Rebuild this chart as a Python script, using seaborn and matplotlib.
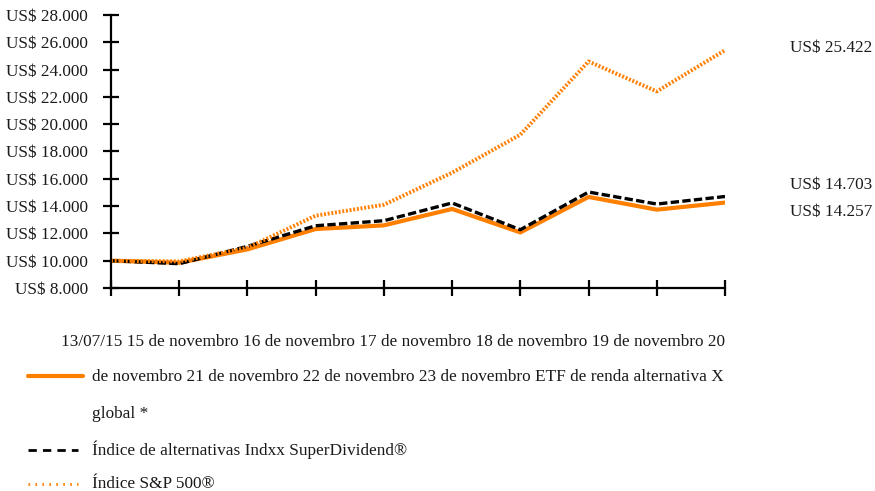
import matplotlib
matplotlib.use("Agg")
import matplotlib.pyplot as plt
from matplotlib.lines import Line2D
import pandas as pd
import seaborn as sns

# period labels (in the original they ended up inside the legend text)
dates = ["13/07/15", "15 de novembro", "16 de novembro", "17 de novembro",
         "18 de novembro", "19 de novembro", "20 de novembro",
         "21 de novembro", "22 de novembro", "23 de novembro"]

etf_x = [10000, 9850, 10830, 12320, 12590, 13790, 12070, 14670, 13740, 14257]
indxx = [10000, 9780, 11050, 12560, 12930, 14230, 12270, 15030, 14150, 14703]
sp500 = [10000, 9950, 10950, 13300, 14100, 16450, 19230, 24600, 22400, 25422]

series_names = ["ETF de renda alternativa X global *",
                "Índice de alternativas Indxx SuperDividend®",
                "Índice S&P 500®"]

y_ticks = list(range(8000, 28001, 2000))
ORANGE = "#FF7F00"
W, H = 875, 491


def usd(v):
    return "US$ " + f"{v:,}".replace(",", ".")


df = pd.DataFrame({"periodo": range(len(dates)), "etf": etf_x,
                   "indxx": indxx, "sp500": sp500})

sns.set_theme(style="white")
plt.rcParams["font.family"] = ["Liberation Serif", "DejaVu Serif"]
FS = 12.4
TXT = "#1a1a1a"

fig = plt.figure(figsize=(W / 100, H / 100), dpi=100)
ax = fig.add_axes([111 / W, 1 - 288 / H, (725 - 111) / W, (288 - 15) / H])

sns.lineplot(data=df, x="periodo", y="etf", ax=ax, color=ORANGE,
             linewidth=3.0)
sns.lineplot(data=df, x="periodo", y="indxx", ax=ax, color="black",
             linewidth=2.4, linestyle=(0, (2.5, 1)))
sns.lineplot(data=df, x="periodo", y="sp500", ax=ax, color=ORANGE,
             linewidth=2.8, linestyle=(0, (0.5, 0.45)))

ax.set_xlim(0, len(dates) - 1)
ax.set_ylim(y_ticks[0], y_ticks[-1])
ax.set_xticks(range(len(dates)))
ax.set_xticklabels([])
ax.set_yticks(y_ticks)
ax.set_yticklabels([usd(v) for v in y_ticks], fontsize=FS)
ax.set_xlabel("")
ax.set_ylabel("")
for s in ["top", "right"]:
    ax.spines[s].set_visible(False)
for s in ["left", "bottom"]:
    ax.spines[s].set_color("black")
    ax.spines[s].set_linewidth(1.6)
ax.tick_params(axis="both", direction="inout", length=12, width=1.6,
               color="black", labelcolor=TXT)
ax.tick_params(axis="y", pad=10.5, left=True)
ax.tick_params(axis="x", bottom=True)

# end values at the right
ends = [(sp500[-1], 1.4), (indxx[-1], 8.5), (etf_x[-1], -6.5)]
for val, dy in ends:
    ax.annotate(usd(val), xy=(790 / W, val),
                xycoords=("figure fraction", "data"),
                xytext=(0, dy), textcoords="offset points",
                va="center", ha="left", fontsize=FS, color=TXT)

# legend block (date labels flowed together with the first series name)
words = (" ".join(dates) + " " + series_names[0]).split()
lines = [" ".join(words[:17]), " ".join(words[17:33]), " ".join(words[33:])]


def fy(py):
    return 1 - py / H


fig.text(61 / W, fy(341.7), lines[0], va="center", fontsize=FS, color=TXT)
fig.text(92 / W, fy(377), lines[1], va="center", fontsize=FS, color=TXT)
fig.text(92 / W, fy(414), lines[2], va="center", fontsize=FS, color=TXT)
fig.text(92 / W, fy(450), series_names[1], va="center", fontsize=FS, color=TXT)
fig.text(92 / W, fy(484), series_names[2], va="center", fontsize=FS, color=TXT)

handles = [
    (376, 83, dict(color=ORANGE, linewidth=3.0)),
    (450, 78, dict(color="black", linewidth=2.0, linestyle=(0, (3, 2.2)))),
    (484, 78, dict(color=ORANGE, linewidth=2.0, linestyle=(0, (0.6, 1.9)))),
]
for py, x1, kw in handles:
    fig.add_artist(Line2D([28 / W, x1 / W], [fy(py), fy(py)],
                          transform=fig.transFigure, **kw))

fig.savefig("out.png", dpi=100)
